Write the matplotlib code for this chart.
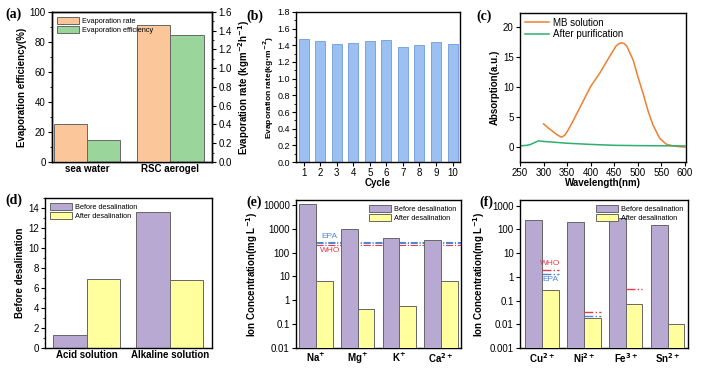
import numpy as np
import matplotlib
matplotlib.use('Agg')
import matplotlib.pyplot as plt

plt.rcParams['font.family'] = ['Liberation Sans', 'DejaVu Sans']
plt.rcParams['font.size'] = 7
plt.rcParams['mathtext.default'] = 'bf'

# (a)
a_cats = ['sea water', 'RSC aerogel']
a_rate = [0.40, 1.465]
a_eff = [15, 84.5]
# (b)
b_cycles = list(range(1, 11))
b_rate = [1.47, 1.45, 1.42, 1.43, 1.455, 1.465, 1.385, 1.40, 1.435, 1.41]
# (c)
mb_x = [300, 310, 320, 330, 338, 345, 350, 360, 380, 400, 419, 440, 454, 460, 465,
        470, 476, 490, 500, 511, 521, 532, 546, 560, 574, 590, 600]
mb_y = [3.8, 3.1, 2.5, 1.9, 1.56, 1.9, 2.5, 3.9, 7.0, 10.1, 12.3, 15.1, 16.9, 17.25, 17.4,
        17.3, 16.9, 14.5, 11.7, 8.9, 6.1, 3.6, 1.4, 0.4, 0.1, -0.05, -0.1]
ap_x = [250, 264, 271, 289, 300, 350, 400, 450, 500, 550, 600]
ap_y = [0.1, 0.2, 0.3, 0.95, 0.85, 0.55, 0.35, 0.2, 0.15, 0.12, 0.1]
# (d)
d_cats = ['Acid solution', 'Alkaline solution']
d_before = [1.3, 13.6]
d_after = [6.9, 6.8]
# (e)
e_cats = ['Na$^{+}$', 'Mg$^{+}$', 'K$^{+}$', 'Ca$^{2+}$']
e_before = [10500, 950, 400, 350]
e_after = [6.5, 0.42, 0.58, 6.3]
e_ticks = [0.01, 0.1, 1, 10, 100, 1000, 10000]
e_epa = [250, 270]
e_who = 200
# (f)
f_cats = ['Cu$^{2+}$', 'Ni$^{2+}$', 'Fe$^{3+}$', 'Sn$^{2+}$']
f_before = [250, 200, 300, 150]
f_after = [0.28, 0.019, 0.07, 0.01]
f_ticks = [0.001, 0.01, 0.1, 1, 10, 100, 1000]
f_who = {0: 2.0, 1: 0.033, 2: 0.3}
f_epa = {0: 1.3, 1: 0.022}

orange = '#FBC79A'
green = '#9AD59C'
purple = '#B8A9D2'
yellow = '#FFFF9E'
edge = '#666666'
red = '#E8394A'
blue = '#4F86D6'

W, H = 703, 370
fig = plt.figure(figsize=(W / 100, H / 100), dpi=100)


def box(l, t, r, b):
    return [l / W, 1 - b / H, (r - l) / W, (b - t) / H]


def plabel(s, x, y):
    fig.text(x / W, 1 - y / H, s, fontsize=10, fontweight='bold',
             family='Liberation Serif', va='center', ha='left')


def style(ax):
    for s in ax.spines.values():
        s.set_linewidth(1.0)
    ax.tick_params(direction='out', length=3, width=0.8, labelsize=7, pad=1.5)
    ax.tick_params(which='minor', direction='out', length=1.5, width=0.6)


leg_kw = dict(frameon=False, fontsize=5.3, handlelength=3.0, handleheight=1.1,
              borderaxespad=0.25, labelspacing=0.1, handletextpad=0.4)

# ---- (a)
ax = fig.add_axes(box(52, 12, 212, 162))
ax2 = ax.twinx()
x = np.arange(len(a_cats))
ax2.bar(x - 0.2, a_rate, 0.4, color=orange, edgecolor=edge, linewidth=0.7, label='Evaporation rate')
ax.bar(x + 0.2, a_eff, 0.4, color=green, edgecolor=edge, linewidth=0.7, label='Evaporation efficiency')
ax.set_ylim(0, 100)
ax2.set_ylim(0, 1.6)
ax.set_xlim(-0.42, 1.5)
ax.set_xticks(x)
ax.set_xticklabels(a_cats, fontweight='bold', fontsize=7)
ax.set_ylabel('Evaporation efficiency(%)', fontweight='bold', fontsize=7, labelpad=2)
ax2.set_ylabel('Evaporation rate (kgm$^{-2}$h$^{-1}$)', fontweight='bold', fontsize=7, labelpad=3)
ax.set_yticks([0, 20, 40, 60, 80, 100])
ax2.set_yticks(np.arange(0, 1.61, 0.2))
ax.yaxis.set_minor_locator(matplotlib.ticker.AutoMinorLocator(2))
ax2.yaxis.set_minor_locator(matplotlib.ticker.AutoMinorLocator(2))
style(ax); style(ax2)
ax.tick_params(axis='x', length=0)
h1, l1 = ax2.get_legend_handles_labels()
h2, l2 = ax.get_legend_handles_labels()
ax2.legend(h1 + h2, l1 + l2, loc='upper left', **leg_kw)
plabel('(a)', 5, 14)

# ---- (b)
ax = fig.add_axes(box(296, 12, 460, 162))
ax.bar(b_cycles, b_rate, 0.6, color='#9DC0F2', edgecolor='#6F9BD8', linewidth=0.6)
ax.set_ylim(0, 1.8)
ax.set_xlim(0.54, 10.45)
ax.set_xticks(b_cycles)
ax.set_yticks(np.arange(0, 1.81, 0.2))
ax.yaxis.set_minor_locator(matplotlib.ticker.AutoMinorLocator(2))
ax.set_xlabel('Cycle', fontweight='bold', fontsize=7, labelpad=0)
ax.set_ylabel('Evaporation rate(kg$\\cdot$m$^{-2}$)', fontweight='bold', fontsize=6, labelpad=1)
style(ax)
ax.tick_params(axis='y', labelsize=6.5)
plabel('(b)', 246, 16)

# ---- (c)
ax = fig.add_axes(box(520, 13, 686, 162))
ax.plot(mb_x, mb_y, color='#F07F30', lw=1.1, label='MB solution')
ax.plot(ap_x, ap_y, color='#2EAF6E', lw=1.1, label='After purification')
ax.set_xlim(250, 602)
ax.set_ylim(-2.6, 22.4)
ax.set_xticks(range(250, 601, 50))
ax.set_yticks([0, 5, 10, 15, 20])
ax.set_xlabel('Wavelength(nm)', fontweight='bold', fontsize=7, labelpad=0)
ax.set_ylabel('Absorption(a.u.)', fontweight='bold', fontsize=7, labelpad=2)
style(ax)
ax.legend(loc='upper left', frameon=False, fontsize=7, handlelength=2.5,
          borderaxespad=0.1, labelspacing=0.15, handletextpad=0.4)
plabel('(c)', 476, 16)

# ---- (d)
ax = fig.add_axes(box(45, 198, 212, 348))
x = np.arange(len(d_cats))
ax.bar(x - 0.2, d_before, 0.4, color=purple, edgecolor=edge, linewidth=0.7, label='Before desalination')
ax.bar(x + 0.2, d_after, 0.4, color=yellow, edgecolor=edge, linewidth=0.7, label='After desalination')
ax.set_ylim(0, 15)
ax.set_xlim(-0.5, 1.51)
ax.set_xticks(x)
ax.set_xticklabels(d_cats, fontweight='bold', fontsize=7)
ax.set_yticks(range(0, 15, 2))
ax.yaxis.set_minor_locator(matplotlib.ticker.AutoMinorLocator(2))
ax.set_ylabel('Before desalination', fontweight='bold', fontsize=7, labelpad=2)
style(ax)
ax.tick_params(axis='x', length=0)
ax.legend(loc='upper left', **leg_kw)
plabel('(d)', 5, 200)


def ion_panel(rect, cats, before, after, ticks, ylim, xlim):
    ax = fig.add_axes(rect)
    x = np.arange(len(cats))
    ax.bar(x - 0.2, before, 0.4, color=purple, edgecolor=edge, linewidth=0.7,
           label='Before desalination', zorder=3)
    ax.bar(x + 0.2, after, 0.4, color=yellow, edgecolor=edge, linewidth=0.7,
           label='After desalination', zorder=3)
    ax.set_yscale('log')
    ax.yaxis.set_major_locator(matplotlib.ticker.FixedLocator(ticks))
    ax.yaxis.set_major_formatter(matplotlib.ticker.FixedFormatter(['%g' % t for t in ticks]))
    ax.yaxis.set_minor_locator(matplotlib.ticker.NullLocator())
    ax.set_ylim(*ylim)
    ax.set_xlim(*xlim)
    ax.set_xticks(x)
    ax.set_xticklabels(cats, fontweight='bold', fontsize=7)
    ax.set_ylabel('Ion Concentration(mg L$^{-1}$)', fontweight='bold', fontsize=7, labelpad=2)
    style(ax)
    ax.tick_params(axis='x', length=0, pad=2)
    ax.legend(loc='upper right', **leg_kw)
    return ax


# ---- (e)
ax = ion_panel(box(296, 200, 461, 348), e_cats, e_before, e_after, e_ticks,
               (0.01, 16000), (-0.48, 3.48))
for v in e_epa:
    ax.plot([0, 3.48], [v, v], color=blue, lw=0.8, ls='-.', zorder=1)
ax.plot([0, 3.48], [e_who, e_who], color=red, lw=0.8, ls='-.', zorder=1)
ax.text(0.33, 330, 'EPA', color=blue, fontsize=6, ha='center', va='bottom')
ax.text(0.33, 165, 'WHO', color=red, fontsize=6, ha='center', va='top')
plabel('(e)', 246, 202)

# ---- (f)
ax = ion_panel(box(520, 200, 688, 348), f_cats, f_before, f_after, f_ticks,
               (0.001, 1750), (-0.53, 3.49))
for i, v in f_who.items():
    ax.plot([i, i + 0.4], [v, v], color=red, lw=1.0, ls='-.', zorder=4)
for i, v in f_epa.items():
    ax.plot([i, i + 0.4], [v, v], color=blue, lw=1.0, ls='-.', zorder=4)
ax.text(0.2, 2.5, 'WHO', color=red, fontsize=6, ha='center', va='bottom')
ax.text(0.2, 1.05, 'EPA', color=blue, fontsize=6, ha='center', va='top')
plabel('(f)', 479, 202)

fig.savefig('out.png', dpi=100)
